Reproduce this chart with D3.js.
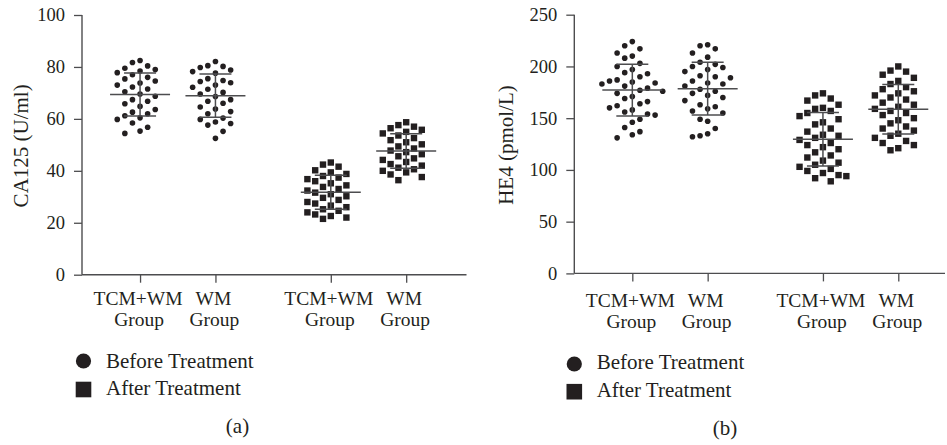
<!DOCTYPE html>
<html>
<head>
<meta charset="utf-8">
<script src="https://cdn.jsdelivr.net/npm/d3@7"></script>
<style>
  html, body { margin: 0; padding: 0; background: #fff; }
  svg { display: block; }
  text { font-family: "Liberation Serif", "Times New Roman", serif; fill: #231f20; }
</style>
</head>
<body>
<svg id="chart" width="947" height="445"></svg>
<script>
// ---------- data ----------
const groups = ["TCM+WM", "WM", "TCM+WM", "WM"];
const groupSub = "Group";
const legendLabels = ["Before Treatment", "After Treatment"];
const panelLabels = ["(a)", "(b)"];
const yTitles = ["CA125 (U/ml)", "HE4 (pmol/L)"];
const yTicksA = [0, 20, 40, 60, 80, 100];
const yTicksB = [0, 50, 100, 150, 200, 250];

// CA125 (U/ml)
const ca125TcmBefore = [82.5, 81.7, 80.4, 79.5, 79.0, 78.4, 77.8, 77.0, 76.0, 75.4, 74.6, 73.8, 73.0, 72.3, 71.5, 70.4,
  69.6, 68.7, 67.4, 66.8, 65.8, 64.8, 63.6, 62.6, 62.0, 61.2, 60.4, 59.8, 58.4, 56.8, 55.3, 54.4];
const ca125WmBefore = [82.1, 80.5, 80.2, 79.8, 78.8, 78.2, 77.6, 75.5, 74.8, 74.4, 73.9, 73.0, 72.2, 71.4, 70.2, 69.6,
  68.6, 67.4, 66.8, 66.0, 64.6, 63.8, 62.8, 62.0, 60.3, 59.8, 58.8, 58.2, 57.6, 55.2, 52.5];
const ca125TcmAfter = [43.2, 42.4, 41.6, 40.2, 39.4, 38.8, 38.0, 37.4, 36.8, 36.0, 35.2, 34.4, 33.8, 33.0, 32.4, 31.6,
  31.0, 30.2, 29.6, 28.8, 28.0, 27.4, 26.6, 26.0, 25.2, 24.6, 24.0, 23.2, 22.6, 22.0, 21.5];
const ca125WmAfter = [58.7, 57.6, 57.0, 56.4, 55.8, 55.0, 54.4, 53.6, 52.6, 51.8, 51.0, 50.2, 49.4, 48.6, 47.8, 47.2,
  46.4, 45.6, 44.8, 44.2, 43.4, 42.6, 42.0, 41.2, 40.6, 40.0, 39.4, 38.6, 37.6, 36.4];

// HE4 (pmol/L)
const he4TcmBefore = [224, 220, 217, 213, 210, 208, 203, 200, 197, 194, 193, 190, 187, 186, 185, 184, 183, 181, 179,
  177, 176, 174, 171, 169, 166, 164, 162, 160, 158, 156, 154, 153, 149, 146, 141, 137, 134, 131];
const he4WmBefore = [221, 220, 217, 213, 209, 204, 202, 200, 199, 197, 195, 191, 190, 189, 186, 184, 183, 181, 178,
  176, 174, 172, 170, 167, 163, 161, 159, 157, 155, 149, 147, 140, 135, 133, 132];
const he4TcmAfter = [174, 172, 169, 167, 163, 160, 159, 157, 155, 152, 149, 146, 144, 140, 137, 134, 133, 131, 129,
  126, 124, 122, 120, 117, 114, 112, 109, 107, 105, 103, 101, 99, 97, 95, 94, 92, 89];
const he4WmAfter = [200, 196, 195, 192, 189, 186, 183, 180, 178, 176, 174, 172, 170, 168, 165, 163, 161, 159, 157,
  155, 153, 150, 148, 145, 142, 140, 138, 135, 133, 131, 128, 126, 124, 121, 119];

// position of each group on the category axis, and its marker kind
const groupPos = [0.77, 1.77, 3.3, 4.3];
const groupShape = ["circle", "circle", "square", "square"];

// ---------- drawing ----------
const INK = "#231f20";
const AXIS = "#4d4d4f";
const svg = d3.select("#chart");

const panels = [
  { series: [ca125TcmBefore, ca125WmBefore, ca125TcmAfter, ca125WmAfter], ticks: yTicksA, ymax: 100,
    x0: 82, xEnd: 466.5, xDomEnd: 5.1, yBottom: 274.7, yTop: 15, title: yTitles[0], titleX: 28,
    legY: [361, 389.5], legX: 83.5, legTextX: 106, legBase: [367.7, 395], label: panelLabels[0], labelX: 237.5, labelY: 433,
    catBase: [305, 326], minD: [10.5, 9.5] },
  { series: [he4TcmBefore, he4WmBefore, he4TcmAfter, he4WmAfter], ticks: yTicksB, ymax: 250,
    x0: 574.3, xEnd: 945, xDomEnd: 4.92, yBottom: 273.4, yTop: 14.7, title: yTitles[1], titleX: 513,
    legY: [364, 391.7], legX: 574.3, legTextX: 596.7, legBase: [369.3, 396.7], label: panelLabels[1], labelX: 725, labelY: 435,
    catBase: [306.5, 327.5], minD: [12, 12] }
];

function swarm(values, y, cx, step, minD) {
  const placed = [];
  const order = [0, -1, 1, -2, 2, -3, 3, -4, 4, -5, 5];
  values.slice().sort((a, b) => b - a).forEach(v => {
    const py = y(v);
    for (const k of order) {
      if (!placed.some(p => p.k === k && Math.abs(p.y - py) < minD)) {
        placed.push({ k, y: py, x: cx + k * step, v });
        break;
      }
    }
  });
  return placed;
}

panels.forEach(P => {
  const x = d3.scaleLinear().domain([0, P.xDomEnd]).range([P.x0, P.xEnd]);
  const y = d3.scaleLinear().domain([0, P.ymax]).range([P.yBottom, P.yTop]);
  const g = svg.append("g");

  // y axis
  const yAxis = g.append("g").attr("transform", `translate(${P.x0},0)`)
    .call(d3.axisLeft(y).tickValues(P.ticks).tickSize(8).tickPadding(9).tickSizeOuter(0));
  yAxis.select(".domain").attr("stroke", AXIS).attr("stroke-width", 1.4)
    .attr("d", `M0,${P.yBottom}V${P.yTop}`);
  yAxis.selectAll(".tick line").attr("stroke", AXIS).attr("stroke-width", 1.3);
  yAxis.selectAll(".tick text").attr("font-size", 18.5).attr("fill", INK)
    .style("font-family", '"Liberation Serif", serif');

  // x axis
  const xAxis = g.append("g").attr("transform", `translate(0,${P.yBottom})`)
    .call(d3.axisBottom(x).tickValues(groupPos).tickSize(8).tickFormat(() => "").tickSizeOuter(0));
  xAxis.select(".domain").attr("stroke", AXIS).attr("stroke-width", 1.4)
    .attr("d", `M${P.x0},0H${P.xEnd}`);
  xAxis.selectAll(".tick line").attr("stroke", AXIS).attr("stroke-width", 1.3);

  // category labels (two separate lines)
  groups.forEach((name, i) => {
    g.append("text").attr("text-anchor", "middle").attr("font-size", 19.5)
      .attr("x", x(groupPos[i]) - 2).attr("y", P.catBase[0]).text(name);
    g.append("text").attr("text-anchor", "middle").attr("font-size", 19.5)
      .attr("x", x(groupPos[i]) - 1).attr("y", P.catBase[1]).text(groupSub);
  });

  // y title
  g.append("text")
    .attr("transform", `translate(${P.titleX},${(P.yTop + P.yBottom) / 2 + 1}) rotate(-90)`)
    .attr("text-anchor", "middle").attr("font-size", 21).text(P.title);

  // points
  P.series.forEach((vals, i) => {
    const cx = x(groupPos[i]);
    const isSq = groupShape[i] === "square";
    const pts = swarm(vals, y, cx, isSq ? 7.8 : 7.6, isSq ? P.minD[1] : P.minD[0]);
    if (isSq) {
      g.append("g").selectAll("rect").data(pts).join("rect")
        .attr("x", d => d.x - 3.2).attr("y", d => d.y - 3.2)
        .attr("width", 6.4).attr("height", 6.4).attr("fill", INK);
    } else {
      g.append("g").selectAll("circle").data(pts).join("circle")
        .attr("cx", d => d.x).attr("cy", d => d.y).attr("r", 2.8).attr("fill", INK);
    }
    // mean ± SD
    const m = d3.mean(vals), sd = d3.deviation(vals);
    const eb = g.append("g").attr("stroke", AXIS).attr("stroke-width", 1.5);
    eb.append("line").attr("x1", cx - 30).attr("x2", cx + 30).attr("y1", y(m)).attr("y2", y(m));
    eb.append("line").attr("x1", cx).attr("x2", cx).attr("y1", y(m + sd)).attr("y2", y(m - sd));
    eb.append("line").attr("x1", cx - 16).attr("x2", cx + 16).attr("y1", y(m + sd)).attr("y2", y(m + sd));
    eb.append("line").attr("x1", cx - 16).attr("x2", cx + 16).attr("y1", y(m - sd)).attr("y2", y(m - sd));
  });

  // legend
  g.append("circle").attr("cx", P.legX).attr("cy", P.legY[0]).attr("r", 7.6).attr("fill", INK);
  g.append("rect").attr("x", P.legX - 7.8).attr("y", P.legY[1] - 7.8).attr("width", 15.6).attr("height", 15.6).attr("fill", INK);
  legendLabels.forEach((lab, i) => {
    g.append("text").attr("x", P.legTextX).attr("y", P.legBase[i]).attr("font-size", 21).text(lab);
  });

  // panel label
  g.append("text").attr("x", P.labelX).attr("y", P.labelY).attr("text-anchor", "middle")
    .attr("font-size", 21).text(P.label);
});
</script>
</body>
</html>
